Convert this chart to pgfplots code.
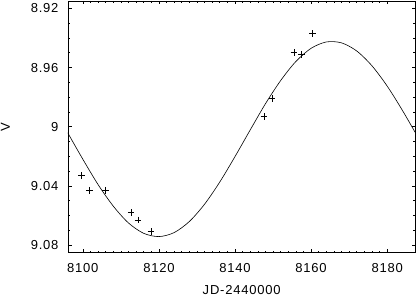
\documentclass[border=0pt]{standalone}
\usepackage{fontspec}
\setmainfont[LetterSpace=6]{Liberation Sans}
\usepackage{pgfplots}
\pgfplotsset{compat=1.18}
\begin{document}
\fontsize{13bp}{15bp}\selectfont
\begin{tikzpicture}
\begin{axis}[
  scale only axis,
  width=347.3bp, height=251.7bp,
  at={(0,0)}, anchor=south west,
  xmin=8096.1, xmax=8187.4,
  ymin=8.915, ymax=9.0852,
  y dir=reverse,
  xtick={8100,8120,8140,8160,8180},
  ytick={8.92,8.96,9,9.04,9.08},
  minor x tick num=9,
  minor y tick num=3,
  tick align=inside,
  major tick length=3.5bp,
  minor tick length=2bp,
  axis line style={line width=0.9pt},
  every tick/.style={black, line width=0.6pt},
  scaled ticks=false,
  /pgf/number format/assume math mode=true,
  /pgf/number format/1000 sep={},
  xticklabel style={yshift=-6bp},
  yticklabel style={xshift=-5bp},
  xlabel={JD-2440000},
  ylabel={V},
  xlabel style={yshift=-4bp},
  ylabel style={yshift=12bp},
  clip=true,
]
\addplot[black, line width=0.6pt, smooth, no marks] coordinates {
(8096,9.0040) (8100,9.0220) (8104,9.0391) (8108,9.0537) (8112,9.0651)
(8116,9.0721) (8120,9.0743) (8124,9.0716) (8128,9.0641) (8132,9.0524)
(8136,9.0374) (8140,9.0202) (8144,9.0022) (8148,8.9845) (8152,8.9688)
(8156,8.9559) (8160,8.9470) (8164,8.9427) (8168,8.9433) (8172,8.9488)
(8176,8.9588) (8180,8.9725) (8184,8.9889) (8188,9.0067)
};
\addplot[only marks, mark=+, mark size=3.3bp, black, line width=0.6pt] coordinates {
(8099.7,9.033) (8101.7,9.043) (8105.9,9.043) (8112.7,9.058) (8114.5,9.063)
(8117.9,9.071) (8147.6,8.993) (8149.7,8.981) (8155.5,8.950) (8157.5,8.951)
(8160.4,8.937)
};
\end{axis}
\pgfresetboundingbox
\useasboundingbox (-68bp,-43.3bp) rectangle (349bp,252.7bp);
\end{tikzpicture}
\end{document}
